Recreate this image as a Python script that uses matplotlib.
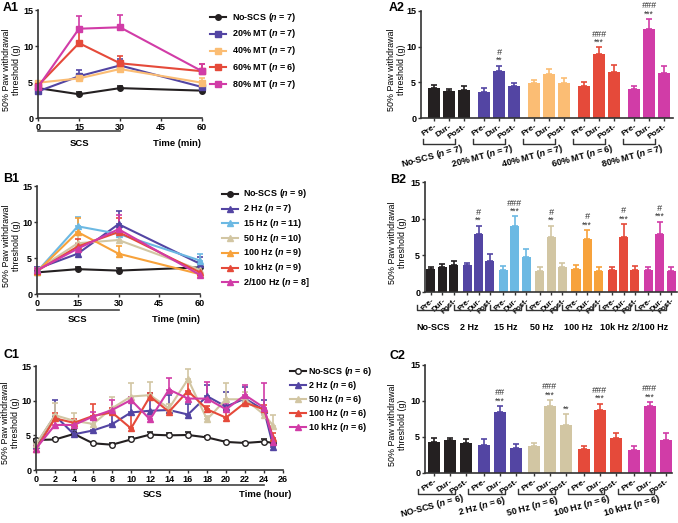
import matplotlib
matplotlib.use("Agg")
import matplotlib.pyplot as plt
import matplotlib.transforms as mtransforms
from matplotlib.lines import Line2D

plt.rcParams["font.family"] = ["Liberation Sans", "DejaVu Sans"]
plt.rcParams["mathtext.fontset"] = "custom"
plt.rcParams["mathtext.it"] = "Liberation Sans:italic:bold"
plt.rcParams["mathtext.rm"] = "Liberation Sans:bold"

# ---- data ----
a1_time = [0, 15, 30, 60]
a1_names = ["No-SCS", "20% MT", "40% MT", "60% MT", "80% MT"]
a1_n = ["7", "7", "7", "6", "7"]
a1_mean = [[4.15, 3.3, 4.15, 3.8],
           [3.7, 5.8, 7.3, 4.3],
           [4.9, 5.5, 6.8, 4.9],
           [4.5, 10.4, 7.6, 6.5],
           [4.3, 12.4, 12.6, 6.5]]
a1_err = [[0.2, 0.3, 0.3, 0.2],
          [0.2, 0.8, 0.9, 0.3],
          [0.3, 0.4, 0.4, 0.7],
          [0.4, 1.8, 1.0, 1.0],
          [0.3, 1.7, 1.7, 1.0]]

a2_groups = ["No-SCS (n = 7)", "20% MT (n = 7)", "40% MT (n = 7)", "60% MT (n = 6)", "80% MT (n = 7)"]
a2_mean = [[4.25, 3.85, 3.9], [3.7, 6.55, 4.5], [4.85, 6.15, 4.95], [4.5, 9.0, 6.4], [4.1, 12.5, 6.3]]
a2_err = [[0.35, 0.15, 0.6], [0.45, 0.8, 0.45], [0.45, 0.75, 0.65], [0.5, 0.9, 1.1], [0.4, 1.4, 1.05]]
a2_marks = [(1, 1, "**", "#"), (3, 1, "***", "###"), (4, 1, "***", "###")]

b1_time = [0, 15, 30, 60]
b1_names = ["No-SCS", "2 Hz", "15 Hz", "50 Hz", "100 Hz", "10 kHz", "2/100 Hz"]
b1_n = ["9)", "7)", "11)", "10)", "9)", "9)", "8]"]
b1_mean = [[3.0, 3.45, 3.25, 3.7],
           [3.5, 5.6, 9.7, 4.2],
           [3.1, 9.4, 8.35, 4.65],
           [3.35, 7.05, 7.5, 3.35],
           [3.1, 8.6, 5.6, 2.75],
           [3.2, 6.6, 8.6, 3.0],
           [3.3, 6.3, 9.0, 2.65]]
b1_err = [[0.3, 0.35, 0.3, 0.4],
          [0.3, 0.7, 1.8, 1.0],
          [0.3, 1.35, 1.2, 0.95],
          [0.3, 1.2, 1.0, 0.4],
          [0.3, 2.0, 1.0, 0.4],
          [0.3, 1.0, 2.0, 0.4],
          [0.3, 0.7, 2.0, 0.4]]

b2_groups = ["No-SCS", "2 Hz", "15 Hz", "50 Hz", "100 Hz", "10k Hz", "2/100 Hz"]
b2_mean = [[3.1, 3.4, 3.75], [3.65, 7.85, 4.25], [3.0, 9.05, 4.75], [2.9, 7.5, 3.45],
           [3.2, 7.2, 2.9], [3.0, 7.55, 3.0], [3.0, 7.85, 2.85]]
b2_err = [[0.3, 0.45, 0.45], [0.35, 1.2, 0.95], [0.5, 1.25, 1.1], [0.5, 1.55, 0.55],
          [0.55, 1.3, 0.5], [0.4, 1.75, 0.55], [0.4, 1.75, 0.55]]
b2_marks = [(1, 1, "**", "#"), (2, 1, "***", "###"), (3, 1, "**", "#"),
            (4, 1, "***", "#"), (5, 1, "***", "#"), (6, 1, "***", "#")]

c1_time = [0, 2, 4, 6, 8, 10, 12, 14, 16, 18, 20, 22, 24, 25]
c1_names = ["No-SCS", "2 Hz", "50 Hz", "100 Hz", "10 kHz"]
c1_n = ["6", "6", "6", "6", "6"]
c1_mean = [[4.33, 4.4, 5.2, 3.85, 3.65, 4.4, 5.1, 5.0, 5.05, 4.7, 4.05, 3.9, 4.1, 3.9],
           [3.6, 7.85, 5.15, 5.7, 6.6, 8.3, 8.55, 8.65, 8.0, 10.65, 9.15, 10.3, 8.65, 3.25],
           [3.7, 7.9, 7.1, 6.65, 8.9, 10.6, 10.8, 8.9, 13.1, 7.3, 10.2, 10.2, 8.0, 6.35],
           [3.0, 7.45, 6.8, 7.8, 8.3, 6.0, 10.6, 8.4, 11.4, 8.75, 7.55, 9.7, 8.75, 4.55],
           [3.1, 6.5, 6.5, 7.7, 8.65, 10.1, 7.3, 11.6, 10.3, 10.3, 8.75, 10.8, 9.0, 4.1]]
c1_err = [[0.2, 0.2, 0.7, 0.2, 0.2, 0.3, 0.4, 0.3, 0.4, 0.2, 0.2, 0.2, 0.4, 0.2],
          [0.3, 2.3, 0.5, 1.9, 1.5, 1.9, 2.6, 2.2, 1.5, 1.6, 2.1, 1.7, 1.4, 0.3],
          [0.3, 1.7, 1.1, 0.6, 1.7, 2.0, 1.9, 0.6, 1.4, 0.5, 2.3, 1.0, 0.5, 1.6],
          [0.3, 0.8, 0.6, 1.7, 0.6, 1.9, 0.5, 0.3, 1.3, 0.5, 1.0, 0.6, 0.6, 0.8],
          [0.3, 0.5, 0.5, 0.6, 1.4, 0.5, 0.5, 1.6, 0.9, 2.4, 0.8, 1.5, 3.6, 0.5]]

c2_groups = ["NO-SCS (n = 6)", "2 Hz (n = 6)", "50 Hz (n = 6)", "100 Hz (n = 6)", "10 kHz (n = 6)"]
c2_mean = [[4.3, 4.6, 4.15], [3.9, 8.45, 3.45], [3.8, 9.35, 6.65], [3.35, 8.75, 4.8], [3.15, 9.25, 4.6]]
c2_err = [[0.55, 0.3, 0.55], [0.8, 0.9, 0.55], [0.35, 0.8, 1.55], [0.45, 0.9, 0.7], [0.55, 0.65, 0.9]]
c2_marks = [(1, 1, "***", "##"), (2, 1, "***", "###"), (2, 2, "**", ""), (3, 1, "***", "###"), (4, 1, "***", "###")]

phases = ["Pre-", "Dur-", "Post-"]

BLACK = "#242021"
PURPLE = "#5345a3"
LORANGE = "#fbbd74"
RED = "#e54a3a"
MAGENTA = "#d13ca7"
LBLUE = "#6cb9e3"
TAN = "#d2c6a3"
ORANGE = "#f7a23b"

a_colors = [BLACK, PURPLE, LORANGE, RED, MAGENTA]
b_colors = [BLACK, PURPLE, LBLUE, TAN, ORANGE, RED, MAGENTA]
c_colors = [BLACK, PURPLE, TAN, RED, MAGENTA]

W, H = 678, 523
fig = plt.figure(figsize=(W / 100, H / 100), dpi=100)


def px_axes(l, t, r, b):
    return fig.add_axes([l / W, 1 - b / H, (r - l) / W, (b - t) / H])


def style(ax, ylab_x, ticksize=6.5):
    for s in ["top", "right"]:
        ax.spines[s].set_visible(False)
    for s in ["left", "bottom"]:
        ax.spines[s].set_linewidth(1.2)
        ax.spines[s].set_color("#333333")
    ax.set_ylim(0, 15)
    ax.set_yticks([0, 5, 10, 15])
    ax.tick_params(labelsize=6.5, width=1, length=2.5, pad=1, color="#333333")
    ax.tick_params(axis="x", labelsize=ticksize)
    for lab in ax.get_xticklabels() + ax.get_yticklabels():
        lab.set_fontweight("bold")
    ax.set_ylabel("50% Paw withdrawal\nthreshold (g)", fontsize=6.4, linespacing=1.2)
    tr = mtransforms.blended_transform_factory(fig.transFigure, ax.transAxes)
    ax.yaxis.set_label_coords(ylab_x / W, 0.45, transform=tr)


def line_panel(ax, t, means, errs, colors, markers, fcs):
    for m, e, c, mk, fc in zip(means, errs, colors, markers, fcs):
        ax.errorbar(t, m, yerr=[[0] * len(e), e], color=c, marker=mk, ms=4, mfc=fc,
                    mec=c, lw=1.5, elinewidth=1.2, capsize=2.5, capthick=1.2, clip_on=False)


def scs_bar(ax, x0, x1, xscs, xtime, tlabel, ybar, ytxt):
    tr = mtransforms.blended_transform_factory(ax.transData, ax.transAxes)
    ax.plot([x0, x1], [ybar, ybar], transform=tr, clip_on=False, color="#444444", lw=1.2)
    ax.text(xscs, ytxt, "SCS", transform=tr, ha="center", va="center", fontsize=6.8, fontweight="bold")
    ax.text(xtime, ytxt, tlabel, transform=tr, ha="center", va="center", fontsize=6.8, fontweight="bold")


def legend(x_mk, x_txt, y0, dy, labels, colors, markers, fcs):
    for i, (lab, c, mk, fc) in enumerate(zip(labels, colors, markers, fcs)):
        y = 1 - (y0 + i * dy) / H
        fig.add_artist(Line2D([(x_mk - 8) / W, (x_mk + 8) / W], [y, y], transform=fig.transFigure,
                              color=c, lw=1.5))
        fig.add_artist(Line2D([x_mk / W], [y], transform=fig.transFigure, color=c, marker=mk,
                              ms=4, mfc=fc, mec=c, lw=0))
        fig.text(x_txt / W, y, lab, va="center", ha="left", fontsize=6.5, fontweight="bold")


def bar_panel(ax, means, errs, colors, gstep, width, rot, xlim, br, ybr, glabels, ylab, lrot, loff,
              marks, ylab_x, ticksize):
    xs = []
    for g, (m, e, c) in enumerate(zip(means, errs, colors)):
        x = [g * gstep + j for j in range(3)]
        xs += x
        ax.bar(x, m, width=width, color=c, yerr=[[0, 0, 0], e],
               error_kw=dict(ecolor=c, elinewidth=1.2, capsize=2.2, capthick=1.2))
    ax.set_xlim(*xlim)
    ax.set_xticks(xs)
    ax.set_xticklabels(phases * len(means), rotation=rot, ha="right", rotation_mode="anchor")
    style(ax, ylab_x, ticksize)
    tr = mtransforms.blended_transform_factory(ax.transData, ax.transAxes)
    for g, lab in enumerate(glabels):
        xa = g * gstep + br[0]
        xb = g * gstep + 2 + br[1]
        ax.plot([xa, xa, xb, xb], [ybr + 0.045, ybr, ybr, ybr + 0.045], transform=tr,
                clip_on=False, color="#333333", lw=1.0)
        lab = lab.replace("n =", "$n$ =")
        ax.text((xa + xb) / 2 + loff, ylab, lab, transform=tr, ha="center", va="center",
                rotation=lrot, fontsize=6.5, fontweight="bold")
    for g, j, st, hs in marks:
        x = g * gstep + j
        top = means[g][j] + errs[g][j]
        ax.annotate(st, (x, top), xytext=(0, 0.3), textcoords="offset points",
                    ha="center", va="bottom", fontsize=6.2, color="#333333")
        if hs:
            ax.annotate(hs, (x, top), xytext=(0, 6.2), textcoords="offset points",
                        ha="center", va="bottom", fontsize=6.5, color="#333333", style="italic")


# ---- A1 ----
ax = px_axes(38, 10, 202, 118)
line_panel(ax, a1_time, a1_mean, a1_err, a_colors, ["o", "s", "s", "s", "s"], a_colors)
ax.set_xlim(0, 60)
ax.set_xticks([0, 15, 30, 45, 60])
style(ax, 21)
scs_bar(ax, 0, 30, 15, 51, "Time (min)", -0.12, -0.235)
legend(218, 232, 17, 16.8, [f"{nm} ($n$ = {n})" for nm, n in zip(a1_names, a1_n)],
       a_colors, ["o", "s", "s", "s", "s"], a_colors)

# ---- A2 ----
ax = px_axes(421, 11, 673, 118)
bar_panel(ax, a2_mean, a2_err, a_colors, 50 / 15, 0.8, 35, (-0.87, 15.93), (-0.75, -0.6), -0.24,
          a2_groups, -0.36, 15, -0.45, a2_marks, 406, 6)

# ---- B1 ----
ax = px_axes(37, 186, 200, 294)
b_mk = ["o"] + ["^"] * 6
line_panel(ax, b1_time, b1_mean, b1_err, b_colors, b_mk, b_colors)
ax.set_xlim(0, 60)
ax.set_xticks([0, 15, 30, 45, 60])
style(ax, 21)
scs_bar(ax, 0, 30, 15, 51, "Time (min)", -0.15, -0.235)
legend(230, 243, 194, 14.7, [f"{nm} ($n$ = {n}" for nm, n in zip(b1_names, b1_n)],
       b_colors, b_mk, b_colors)

# ---- B2 ----
ax = px_axes(425, 182, 677, 292)
bar_panel(ax, b2_mean, b2_err, b_colors, 36.3 / 11.3, 0.8, 45, (-0.53, 21.8), (-1.2, -0.45), -0.165,
          b2_groups, -0.32, 0, 0, b2_marks, 407, 5.6)

# ---- C1 ----
ax = px_axes(36, 366, 283, 470)
c_mk = ["o"] + ["^"] * 4
c_fc = ["white"] + c_colors[1:]
line_panel(ax, c1_time, c1_mean, c1_err, c_colors, c_mk, c_fc)
ax.set_xlim(0, 26)
ax.set_xticks(range(0, 27, 2))
style(ax, 20)
scs_bar(ax, 0.4, 24, 12.3, 24.1, "Time (hour)", -0.145, -0.235)
legend(298, 308, 371, 14, [f"{nm} ($n$ = {n})" for nm, n in zip(c1_names, c1_n)],
       c_colors, c_mk, c_fc)

# ---- C2 ----
ax = px_axes(425, 365, 672, 473)
bar_panel(ax, c2_mean, c2_err, c_colors, 50 / 16, 0.75, 35, (-0.56, 14.9), (-1.0, -0.7), -0.19,
          c2_groups, -0.31, 15, -0.25, c2_marks, 407, 6)

# panel labels
for lab, x, y in [("A1", 3, 2), ("A2", 389, 2), ("B1", 3, 173), ("B2", 390, 174),
                  ("C1", 3, 349), ("C2", 390, 350)]:
    fig.text(x / W, 1 - y / H, lab, ha="left", va="top", fontsize=9, fontweight="bold")

fig.savefig("out.png", dpi=100)
